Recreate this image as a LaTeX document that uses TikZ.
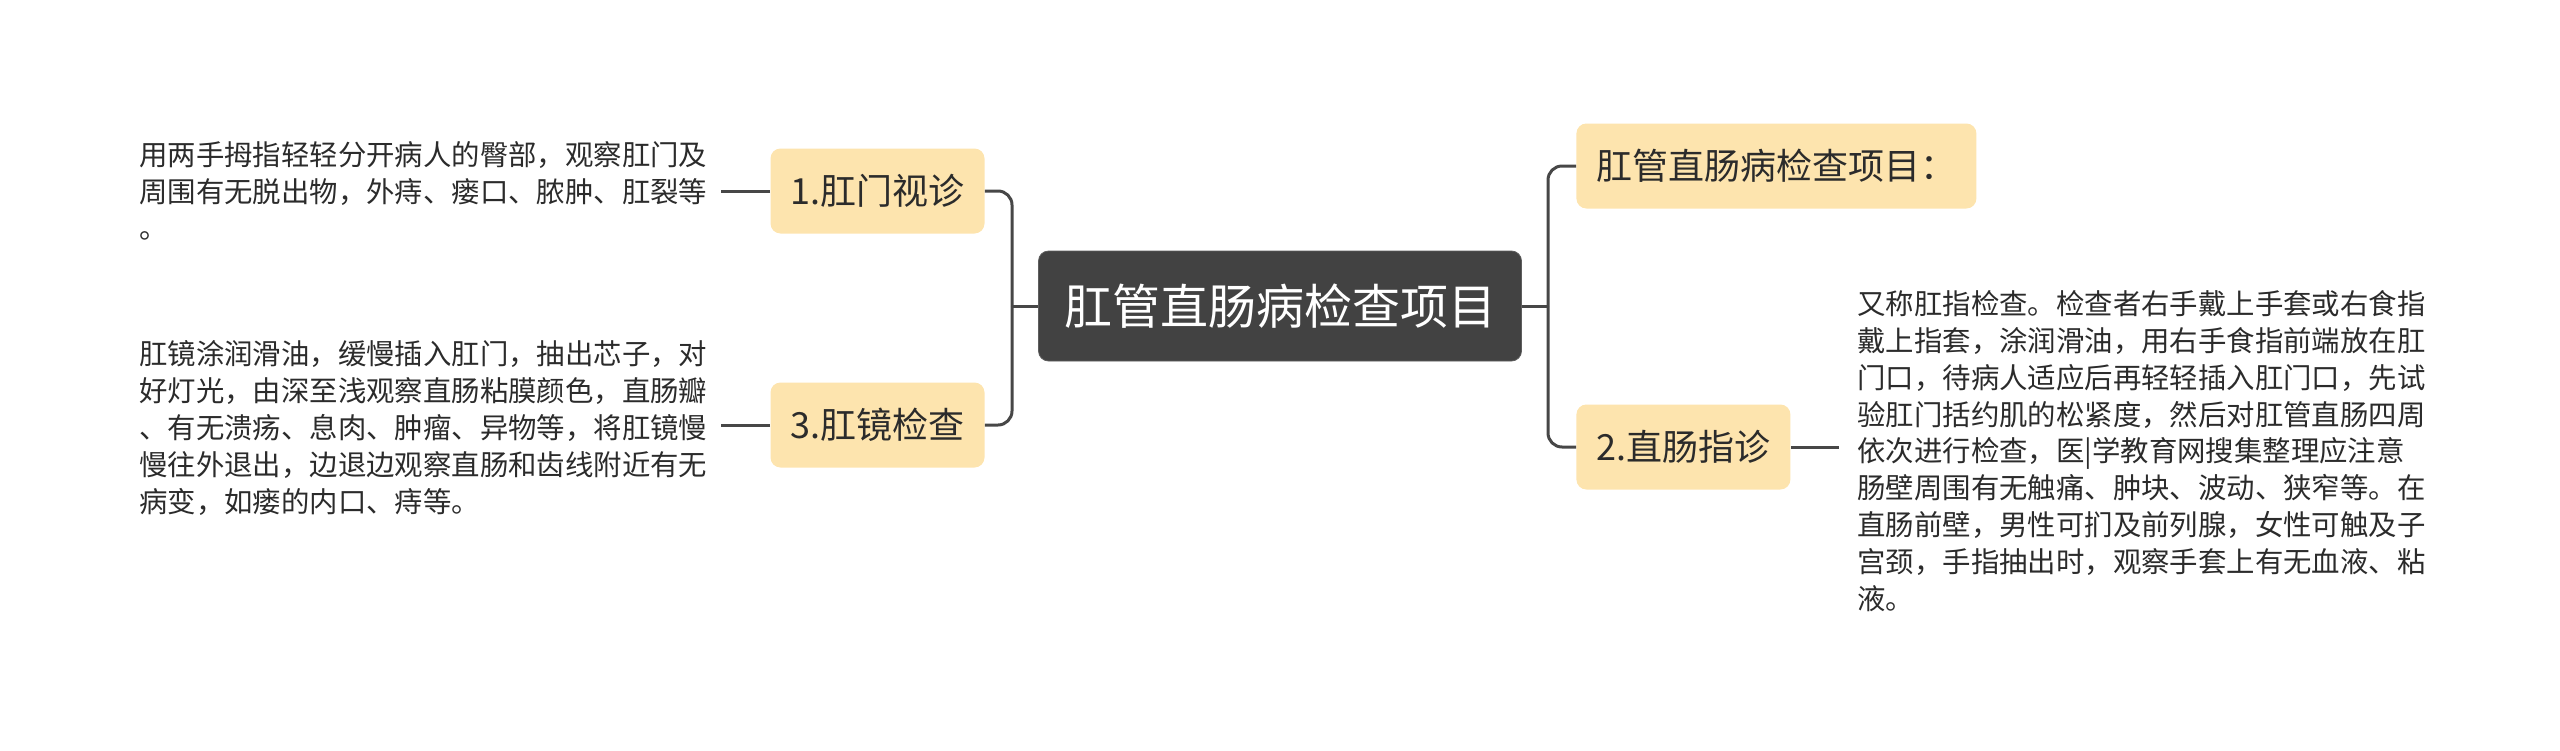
\documentclass[tikz,border=0pt]{standalone}
\usepackage{fontspec}
\setmainfont{Noto Sans CJK SC}
\usepackage{xcolor}
\definecolor{rootfill}{HTML}{424242}
\definecolor{subfill}{HTML}{FDE4AE}
\definecolor{linecol}{HTML}{474747}
\definecolor{txtcol}{HTML}{2B2B2B}

\begin{document}
\begin{tikzpicture}[
    x=0.5pt, y=-0.5pt,
    root/.style={fill=rootfill, draw=rootfill!85!white, rounded corners=5pt, text=white, font=\fontsize{24pt}{29pt}\selectfont, minimum width=241.5pt, minimum height=55pt},
    sub/.style={fill=subfill, rounded corners=5pt, text=txtcol, font=\fontsize{18pt}{22pt}\selectfont, minimum height=42.5pt, inner xsep=10pt},
    detail/.style={align=left, inner sep=0pt, text=txtcol, font=\fontsize{14.2pt}{18.4pt}\selectfont},
    conn/.style={draw=linecol, line width=1.5pt}
]
\useasboundingbox (0,0) rectangle (2560,750);

\node[root] (root) at (1280,306) {肛管直肠病检查项目};

% left side
\node[sub] (anal) at (877.5,191) {1.肛门视诊};
\node[sub] (endo) at (877.5,425) {3.肛镜检查};
\node[detail, anchor=west] (analtxt) at (139,191) {用两手拇指轻轻分开病人的臀部，观察肛门及\\周围有无脱出物，外痔、瘘口、脓肿、肛裂等\\。};
\node[detail, anchor=west] (endotxt) at (139,428) {肛镜涂润滑油，缓慢插入肛门，抽出芯子，对\\好灯光，由深至浅观察直肠粘膜颜色，直肠瓣\\、有无溃疡、息肉、肿瘤、异物等，将肛镜慢\\慢往外退出，边退边观察直肠和齿线附近有无\\病变，如瘘的内口、痔等。};

% right side
\node[sub, anchor=west] (heading) at (1576,166) {肛管直肠病检查项目：};
\node[sub, anchor=west] (rectal) at (1576,447) {2.直肠指诊};
\node[detail, anchor=west] (rectaltxt) at (1857,451) {又称肛指检查。检查者右手戴上手套或右食指\\戴上指套，涂润滑油，用右手食指前端放在肛\\门口，待病人适应后再轻轻插入肛门口，先试\\验肛门括约肌的松紧度，然后对肛管直肠四周\\依次进行检查，医|学教育网搜集整理应注意\\肠壁周围有无触痛、肿块、波动、狭窄等。在\\直肠前壁，男性可扪及前列腺，女性可触及子\\宫颈，手指抽出时，观察手套上有无血液、粘\\液。};

\coordinate (jl) at (1012,306);
\coordinate (jr) at (1548,306);

\draw[conn] (root.west) -- (jl);
\draw[conn, rounded corners=7pt] (anal.east) -| (jl);
\draw[conn, rounded corners=7pt] (endo.east) -| (jl);
\draw[conn] (root.east) -- (jr);
\draw[conn, rounded corners=7pt] (heading.west) -| (jr);
\draw[conn, rounded corners=7pt] (rectal.west) -| (jr);

\draw[conn, shorten >=6.5pt] (anal.west) -- (anal.west -| analtxt.east);
\draw[conn, shorten >=6.5pt] (endo.west) -- (endo.west -| endotxt.east);
\draw[conn, shorten >=9pt] (rectal.east) -- (rectal.east -| rectaltxt.west);
\end{tikzpicture}
\end{document}
